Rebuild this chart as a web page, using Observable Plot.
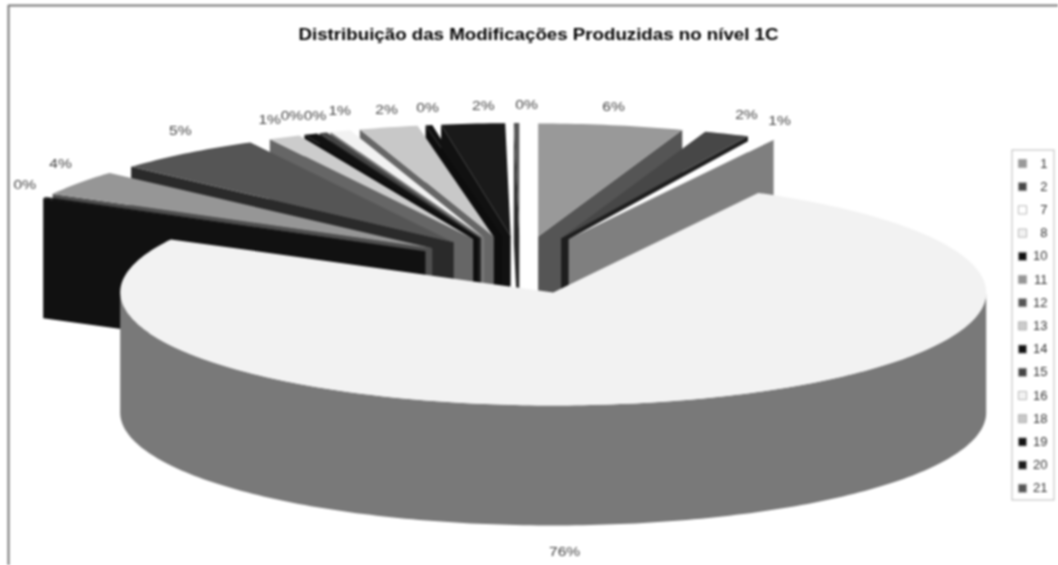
<!DOCTYPE html>
<html>
<head>
<meta charset="utf-8">
<script src="https://cdn.jsdelivr.net/npm/d3@7"></script>
<script src="https://cdn.jsdelivr.net/npm/@observablehq/plot@0.6"></script>
<style>
html,body{margin:0;padding:0;background:#fff;}
svg{display:block;filter:blur(0.8px);}
</style>
</head>
<body>
<div id="chart"></div>
<script>
// Data
const categories = ["1","2","7","8","10","11","12","13","14","15","16","18","19","20","21"];
const shares = [5.4,1.7,0.75,74.95,0.2,3.64,5.6,1.2,0.5,0.3,0.77,2.19,0.25,2.37,0.2];
const labels = ["6%","2%","1%","76%","0%","4%","5%","1%","0%","0%","1%","2%","0%","2%","0%"];
const topColors = ["#999999","#474747","#ffffff","#f2f2f2","#111111","#969696","#555555","#cccccc","#111111","#444444","#f2f2f2","#c8c8c8","#111111","#1a1a1a","#555555"];
const sideColors = ["#555555","#1e1e1e","#7f7f7f","#797979","#111111","#4f4f4f","#2a2a2a","#666666","#0d0d0d","#222222","#777777","#666666","#0d0d0d","#111111","#2a2a2a"];
const labelDx = [-1,12,6,-120,-2,-2,6,-6,-11,-1,6,3,2,12,10];
const labelDy = [-1,-2,-2,134,-4,-9,-8,-1,-2,0,-3,0,0,0,0];
const title = "Distribuição das Modificações Produzidas no nível 1C";

// Projection of the exploded 3D pie (pixel-sized scale domains)
const W = 1058, H = 565;
const pie = {cx:519.5, cy:264.4, ex:107.5, ey:28.8, rx:433, ry:113, depth:120, mainShift:2, main:3};
const rad = d => d * Math.PI / 180;
const total = d3.sum(shares);
let acc = 0;
const slices = categories.map((c,i) => {
  const a0 = acc / total * 360; acc += shares[i];
  const a1 = acc / total * 360;
  const mid = (a0 + a1) / 2;
  const ax = pie.cx + pie.ex * Math.sin(rad(mid)) + (i === pie.main ? pie.mainShift : 0);
  const ay = pie.cy - pie.ey * Math.cos(rad(mid));
  return {c, i, a0, a1, mid, ax, ay};
});
const rim = (s, a, h=0) => ({x: s.ax + pie.rx*Math.sin(rad(a)), y: s.ay - pie.ry*Math.cos(rad(a)) + h});
const arc = (s, a0, a1, h=0) => {
  const n = Math.max(2, Math.ceil(Math.abs(a1-a0)));
  return d3.range(n+1).map(k => rim(s, a0 + (a1-a0)*k/n, h));
};
const poly = (pts, fill) => Plot.line(pts, {x:"x", y:"y", fill, stroke:"none", curve:"linear"});

const order = [...slices].sort((p,q) => Math.cos(rad(q.mid)) - Math.cos(rad(p.mid)));
const pieMarks = order.flatMap(s => {
  const marks = [];
  const apex = {x:s.ax, y:s.ay}, apexLow = {x:s.ax, y:s.ay+pie.depth};
  const span = s.a1 - s.a0;
  if (span < 180) {
    const edge = s.mid < 180 ? s.a1 : s.a0;
    marks.push(poly([apex, rim(s,edge), rim(s,edge,pie.depth), apexLow], sideColors[s.i]));
  } else {
    const front0 = Math.max(s.a0, 90), front1 = Math.min(s.a1, 270);
    marks.push(poly([...arc(s,front0,front1), ...arc(s,front1,front0,pie.depth)], sideColors[s.i]));
  }
  marks.push(poly([apex, ...arc(s,s.a0,s.a1)], topColors[s.i]));
  return marks;
});

const labelData = slices.map(s => {
  const sx = Math.sin(rad(s.mid)), cy = Math.cos(rad(s.mid));
  return {
    t: labels[s.i],
    x: s.ax + (pie.rx+20)*sx + labelDx[s.i],
    y: s.ay - (pie.ry+18)*cy + labelDy[s.i]
  };
});

const legend = {x0:1012, x1:1054, y0:150, y1:500, first:163, step:23.2, sw:1022, tx:1047};
const legendData = categories.map((c,i) => ({c, i, y: legend.first + legend.step*i}));

const chart = Plot.plot({
  width: W, height: H, margin: 0,
  style: {background:"#fff"},
  x: {domain:[0,W], range:[0,W], axis:null},
  y: {domain:[0,H], range:[0,H], axis:null},
  marks: [
    Plot.ruleX([8], {y1:5, y2:H, stroke:"#777", strokeWidth:2}),
    Plot.ruleY([5], {x1:8, x2:W, stroke:"#777", strokeWidth:2}),
    ...pieMarks,
    Plot.text(labelData, {x:"x", y:"y", text:"t", fontSize:13, fill:"#444", fontFamily:"Liberation Sans", className:"pct"}),
    Plot.text([title], {x:[538], y:[34], fontSize:16, fontWeight:"bold", fill:"#000", fontFamily:"Liberation Sans", className:"ttl"}),
    Plot.rect([legend], {x1:"x0", x2:"x1", y1:"y0", y2:"y1", fill:"#fff", stroke:"#bbb", strokeWidth:1}),
    Plot.dot(legendData, {x:()=>legend.sw, y:"y", symbol:"square", r:4.6, fill:d=>topColors[d.i], stroke:"#aaa", strokeWidth:0.8}),
    Plot.text(legendData, {x:()=>legend.tx, y:"y", text:"c", textAnchor:"end", fontSize:13, fill:"#333", fontFamily:"Liberation Sans"})
  ]
});
document.getElementById("chart").appendChild(chart);
// The scanned original is stretched horizontally: widen the real text to match it
d3.select(chart).selectAll(".pct text").each(function() {
  this.setAttribute("textLength", this.getComputedTextLength() * 1.2);
  this.setAttribute("lengthAdjust", "spacingAndGlyphs");
});
d3.select(chart).selectAll(".ttl text").attr("textLength", 480).attr("lengthAdjust", "spacingAndGlyphs");
</script>
</body>
</html>
